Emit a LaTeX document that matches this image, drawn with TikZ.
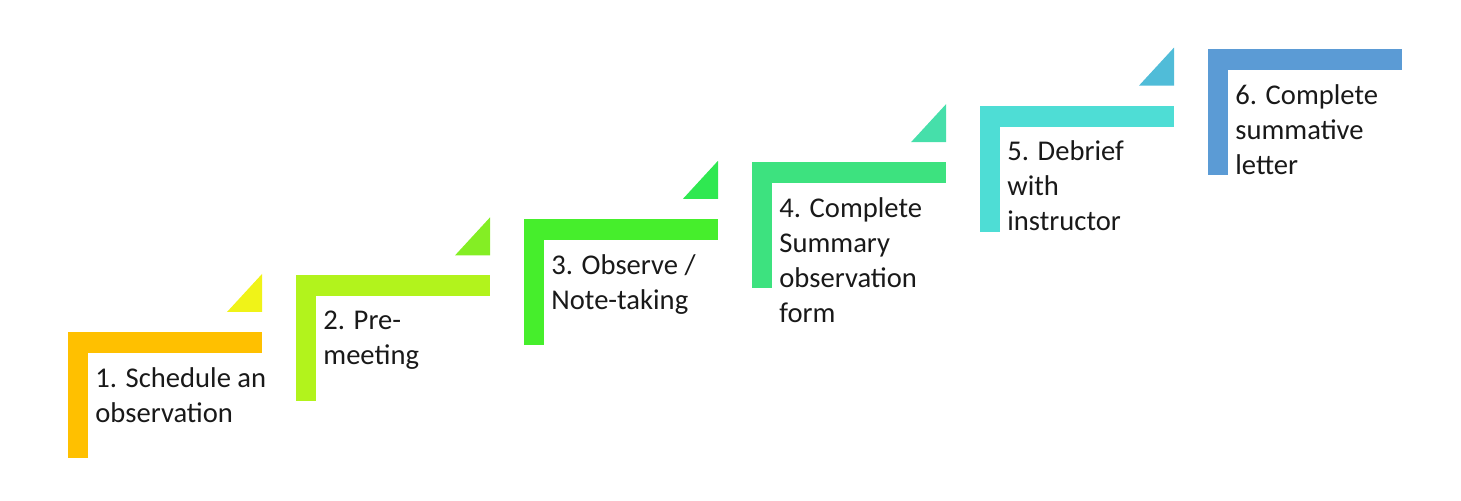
\documentclass[tikz,border=0pt]{standalone}
\usepackage{fontspec}
\setmainfont{Carlito}
\usepackage{xcolor}
\usepackage{tikz}
\usetikzlibrary{positioning}

\definecolor{bar1}{HTML}{FFC000}
\definecolor{bar2}{HTML}{B2F31C}
\definecolor{bar3}{HTML}{46EE2C}
\definecolor{bar4}{HTML}{3DE27F}
\definecolor{bar5}{HTML}{4EDDD5}
\definecolor{bar6}{HTML}{5B9BD5}
\definecolor{flag1}{HTML}{F0F318}
\definecolor{flag2}{HTML}{84EE24}
\definecolor{flag3}{HTML}{2FE851}
\definecolor{flag4}{HTML}{46DFAA}
\definecolor{flag5}{HTML}{50BCD8}

\begin{document}
\begin{tikzpicture}[
  x=0.5pt, y=-0.5pt,
  steptext/.style={align=left, inner sep=0pt, text=black!90, font=\fontsize{14.3}{17.5}\selectfont}
]
  \useasboundingbox (0,0) rectangle (1461,501);
  \foreach \i/\txt in {1/{1. Schedule an\\observation},
                       2/{2. Pre-\\meeting},
                       3/{3. Observe /\\Note-taking},
                       4/{4. Complete\\Summary\\observation\\form},
                       5/{5. Debrief\\with\\instructor},
                       6/{6. Complete\\summative\\letter}} {
    \pgfmathsetmacro\x{68+228*(\i-1)}
    \pgfmathsetmacro\y{332-56.6*(\i-1)}
    \fill[bar\i] (\x,\y) rectangle ++(20,126);
    \fill[bar\i] (\x,\y) rectangle ++(194,21);
    \coordinate (corner\i) at (\x+20,\y+21);
    \node[steptext, below right=7pt and 3.5pt of corner\i] (step\i) {\txt};
  }
  \foreach \i in {1,...,5} {
    \pgfmathsetmacro\x{68+228*(\i-1)}
    \pgfmathsetmacro\y{332-56.6*(\i-1)}
    \fill[flag\i] (\x+194,\y-20) -- (\x+159,\y-20) -- (\x+194,\y-58) -- cycle;
  }
\end{tikzpicture}
\end{document}
